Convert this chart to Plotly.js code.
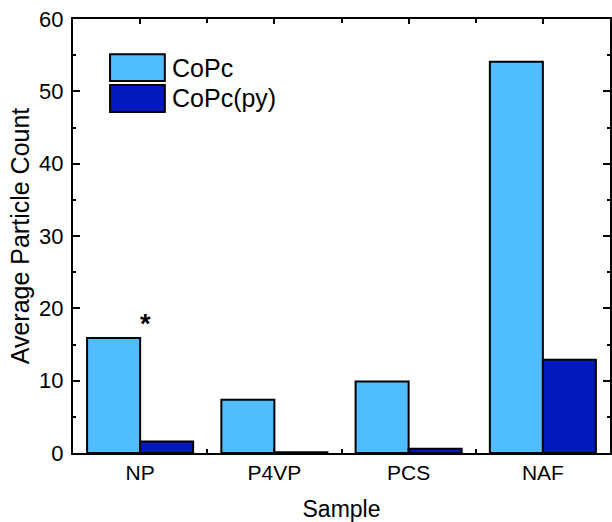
<!DOCTYPE html>
<html>
<head>
<meta charset="utf-8">
<script src="https://cdn.plot.ly/plotly-3.0.1.min.js"></script>
<style>
  html, body { margin: 0; padding: 0; background: #fff; }
  #chart { width: 612px; height: 522px; }
</style>
</head>
<body>
<div id="chart"></div>
<script>
// Sample categories and average particle counts for each catalyst form
const samples = ['NP', 'P4VP', 'PCS', 'NAF'];
const seriesNames = ['CoPc', 'CoPc(py)'];
const copcCounts = [15.9, 7.35, 9.9, 54.1];
const copcPyCounts = [1.6, 0.1, 0.6, 12.9];
const seriesColors = ['#50BDFF', '#0219BD'];
const yTicks = [0, 10, 20, 30, 40, 50, 60];

const positions = samples.map((_, i) => i);
const font = 'Liberation Sans, Arial, sans-serif';

const traces = [
  {
    type: 'bar', name: seriesNames[0], x: positions, y: copcCounts,
    offset: -0.395, width: 0.395,
    marker: { color: seriesColors[0], line: { color: '#000', width: 2 } },
    showlegend: false, hoverinfo: 'y'
  },
  {
    type: 'bar', name: seriesNames[1], x: positions, y: copcPyCounts,
    offset: 0, width: 0.395,
    marker: { color: seriesColors[1], line: { color: '#000', width: 2 } },
    showlegend: false, hoverinfo: 'y'
  }
];

// Legend drawn as wide swatches with labels beside them
const legendShapes = seriesColors.map((c, i) => ({
  type: 'rect', xref: 'paper', yref: 'paper',
  x0: 0.069, x1: 0.171,
  y0: 0.857 - i * 0.071, y1: 0.919 - i * 0.071,
  fillcolor: c, line: { color: '#000', width: 2 }
}));
const legendLabels = seriesNames.map((n, i) => ({
  xref: 'paper', yref: 'paper', x: 0.181, y: 0.888 - i * 0.071,
  xanchor: 'left', yanchor: 'middle', showarrow: false,
  text: n, font: { family: font, size: 25, color: '#000' }
}));

const layout = {
  width: 612, height: 522,
  margin: { l: 73, r: 2, t: 19, b: 69 },
  paper_bgcolor: '#fff', plot_bgcolor: '#fff',
  barmode: 'overlay',
  showlegend: false,
  xaxis: {
    range: [-0.5, 3.5],
    tickvals: positions, ticktext: samples,
    ticks: 'inside', ticklen: 5, tickwidth: 2, tickcolor: '#000',
    minor: { dtick: 0.5, tick0: 0.5, ticks: 'inside', ticklen: 4, tickwidth: 2, tickcolor: '#000' },
    showline: true, linecolor: '#000', linewidth: 2, mirror: 'ticks',
    showgrid: false, zeroline: false, automargin: false,
    tickfont: { family: font, size: 21, color: '#000' },
    title: { text: 'Sample', font: { family: font, size: 23, color: '#000' }, standoff: 22 }
  },
  yaxis: {
    range: [0, 60],
    tickvals: yTicks,
    ticks: 'inside', ticklen: 7, tickwidth: 2, tickcolor: '#000',
    minor: { dtick: 5, ticks: 'inside', ticklen: 3, tickwidth: 2, tickcolor: '#000' },
    showline: true, linecolor: '#000', linewidth: 2, mirror: 'ticks',
    showgrid: false, zeroline: false, automargin: false,
    ticklabelstandoff: 3,
    tickfont: { family: font, size: 22, color: '#000' },
    title: { text: 'Average Particle Count', font: { family: font, size: 25, color: '#000' }, standoff: 2 }
  },
  shapes: legendShapes,
  annotations: legendLabels.concat([{
    x: 0, y: copcCounts[0], xref: 'x', yref: 'y',
    xshift: 5, yshift: -3, yanchor: 'bottom', showarrow: false,
    text: '<b>*</b>', font: { family: font, size: 27, color: '#000' }
  }])
};

Plotly.newPlot('chart', traces, layout, { displayModeBar: false, staticPlot: true });
</script>
</body>
</html>
